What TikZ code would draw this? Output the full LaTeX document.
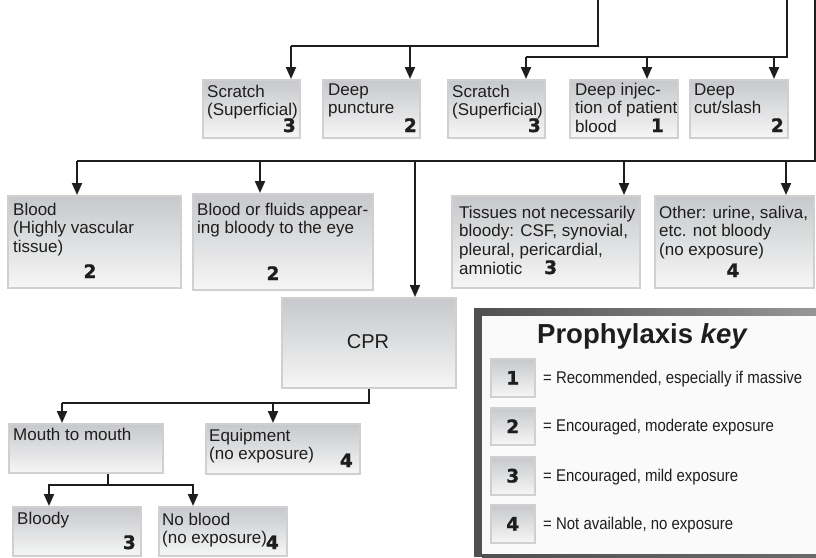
\documentclass[tikz,border=0pt]{standalone}
\usepackage{fontspec}
\setmainfont{Liberation Sans}
\newfontfamily\numfont{DejaVu Sans}[BoldFeatures={FakeBold=1.2}]
\newfontfamily\keyfont{Liberation Sans}[FakeStretch=0.88]
\usetikzlibrary{arrows.meta,calc}

\definecolor{boxtop}{RGB}{198,200,203}
\definecolor{boxbot}{RGB}{246,246,246}
\definecolor{boxline}{RGB}{208,208,208}
\definecolor{ink}{RGB}{30,30,30}
\definecolor{keybg}{RGB}{250,250,250}
\definecolor{framedark}{RGB}{80,80,82}
\definecolor{framelight}{RGB}{150,150,152}

\newcommand\boxfont{\fontsize{17}{18.8}\selectfont}
\newcommand\rows[1]{\begin{tabular}[t]{@{}l@{}}#1\end{tabular}}

\tikzset{
  gbox/.style={draw=boxline, line width=1.5pt, top color=boxtop, bottom color=boxbot,
    inner sep=0pt, anchor=north west},
  txt/.style={anchor=base west, inner sep=0pt, font=\boxfont, text=ink},
  num/.style={inner sep=0pt, font=\numfont\bfseries\fontsize{18.5}{20}\selectfont, text=ink},
  keytxt/.style={anchor=base west, inner sep=0pt, font=\keyfont\fontsize{17}{19}\selectfont, text=ink},
  link/.style={draw=ink, line width=2pt},
  arr/.style={link, -{Triangle[width=10pt,length=12pt]}},
}
% shaded box from (x1,y1) to (x2,y2), y counted downwards
\newcommand\gradbox[5]{\node[gbox, minimum width={#4-#2}, minimum height={#5-#3}] (#1) at (#2,#3) {};}

\begin{document}
\begin{tikzpicture}[x=1pt,y=-1pt]
\useasboundingbox (0,0) rectangle (816,557);

% ---------- first row: injuries ----------
\gradbox{s1}{202}{79}{299}{137}
\node[txt] (s1t) at (207,97) {\rows{Scratch\\(Superficial)}};
\node[num, anchor=base east] (s1n) at (296,132) {3};

\gradbox{dp}{322}{79}{419}{137}
\node[txt] (dpt) at (328,95) {\rows{Deep\\puncture}};
\node[num, anchor=base east] (dpn) at (417,132) {2};

\gradbox{s2}{447}{79}{544}{137}
\node[txt] (s2t) at (452,97) {\rows{Scratch\\(Superficial)}};
\node[num, anchor=base east] (s2n) at (541,132) {3};

\gradbox{di}{569}{79}{677}{137}
\node[txt] (dit) at (575,95) {\rows{Deep injec-\\tion of patient\\blood}};
\node[num, anchor=base east] (din) at (664,132) {1};

\gradbox{dc}{689}{79}{787}{137}
\node[txt] (dct) at (694,95) {\rows{Deep\\cut/slash}};
\node[num, anchor=base east] (dcn) at (784,132) {2};

% ---------- second row: fluids ----------
\gradbox{bl}{7}{195}{180}{287}
\node[txt] (blt) at (13,215) {\rows{Blood\\(Highly vascular\\tissue)}};
\node[num, anchor=base] (bln) at (90,278) {2};

\gradbox{bf}{192}{193}{372}{289}
\node[txt] (bft) at (197,215) {\rows{Blood or fluids appear-\\ing bloody to the eye}};
\node[num, anchor=base] (bfn) at (273,280) {2};

\gradbox{ts}{451}{195}{639}{287}
\node[txt] (tst) at (459,218) {\rows{Tissues not necessarily\\bloody: CSF, synovial,\\pleural, pericardial,\\amniotic}};
\node[num, anchor=base west] (tsn) at (544,274) {3};

\gradbox{ot}{654}{195}{813}{287}
\node[txt] (ott) at (659,218) {\rows{Other: urine, saliva,\\etc. not bloody\\(no exposure)}};
\node[num, anchor=base] (otn) at (733,277) {4};

% ---------- CPR branch ----------
\gradbox{cpr}{281}{297}{455}{387}
\node[inner sep=0pt, anchor=base, font=\fontsize{20}{22}\selectfont, text=ink] (cprt) at (368,348) {CPR};

\gradbox{mm}{8}{423}{162}{472}
\node[txt] (mmt) at (13,440) {Mouth to mouth};

\gradbox{eq}{205}{423}{359}{473}
\node[txt] (eqt) at (209,441) {\rows{Equipment\\(no exposure)}};
\node[num, anchor=base east] (eqn) at (353,467) {4};

\gradbox{bd}{12}{506}{140}{555}
\node[txt] (bdt) at (17,524) {Bloody};
\node[num, anchor=base east] (bdn) at (136,549) {3};

\gradbox{nb}{158}{506}{286}{555}
\node[txt] (nbt) at (162,525) {\rows{No blood\\(no exposure)}};
\node[num, anchor=base east] (nbn) at (279,549) {4};

% ---------- connectors ----------
\coordinate (topA) at (598,0);
\coordinate (busA1) at (291,46);
\coordinate (busA2) at (410,46);
\draw[link] (topA) |- (busA1);
\draw[arr] (busA1) -- (busA1 |- s1.north);
\draw[arr] (busA2) -- (busA2 |- dp.north);

\coordinate (topB) at (787,0);
\coordinate (busB1) at (526,57);
\coordinate (busB2) at (647,57);
\coordinate (busB3) at (774,57);
\draw[link] (topB) |- (busB1);
\draw[arr] (busB1) -- (busB1 |- s2.north);
\draw[arr] (busB2) -- (busB2 |- di.north);
\draw[arr] (busB3) -- (busB3 |- dc.north);

\coordinate (topC) at (815,0);
\coordinate (busC1) at (77,161);
\coordinate (busC2) at (260,161);
\coordinate (busC3) at (415,161);
\coordinate (busC4) at (624,161);
\coordinate (busC5) at (786,161);
\draw[link] (topC) |- (busC1);
\draw[arr] (busC1) -- (busC1 |- bl.north);
\draw[arr] (busC2) -- (busC2 |- bf.north);
\draw[arr] (busC3) -- (busC3 |- cpr.north);
\draw[arr] (busC4) -- (busC4 |- ts.north);
\draw[arr] (busC5) -- (busC5 |- ot.north);

\coordinate (busD1) at (62,403);
\coordinate (busD2) at (273,403);
\draw[link] (cpr.south) |- (busD1);
\draw[arr] (busD1) -- (busD1 |- mm.north);
\draw[arr] (busD2) -- (busD2 |- eq.north);

\coordinate (mmOut) at ($(mm.south)+(22,0)$);
\coordinate (busE1) at (49,485);
\coordinate (busE2) at (193,485);
\draw[link] (mmOut) -- (mmOut |- busE1);
\draw[link, line cap=rect] (busE1) -- (busE2);
\draw[arr] (busE1) -- (busE1 |- bd.north);
\draw[arr] (busE2) -- (busE2 |- nb.north);

% ---------- key panel ----------
\fill[keybg] (482,315) rectangle (816,554);
\shade[left color=framedark, right color=framelight] (474,308) rectangle (816,315);
\fill[framedark] (474,308) rectangle (482,557);
\shade[left color=framedark, right color=framedark!85!white] (482,554) rectangle (816,557);

\node[inner sep=0pt, anchor=base west, font=\bfseries\fontsize{27.5}{30}\selectfont, text=ink]
  (keytitle) at (537,343) {Prophylaxis \textit{key}};

\gradbox{k1}{490}{358}{534}{396}
\node[num] (k1n) at (k1.center) {1};
\node[keytxt] (k1t) at (543,383) {= Recommended, especially if massive};

\gradbox{k2}{490}{407}{534}{444}
\node[num] (k2n) at (k2.center) {2};
\node[keytxt] (k2t) at (543,431) {= Encouraged, moderate exposure};

\gradbox{k3}{490}{456}{534}{494}
\node[num] (k3n) at (k3.center) {3};
\node[keytxt] (k3t) at (543,481) {= Encouraged, mild exposure};

\gradbox{k4}{490}{504}{534}{542}
\node[num] (k4n) at (k4.center) {4};
\node[keytxt] (k4t) at (543,529) {= Not available, no exposure};
\end{tikzpicture}
\end{document}
